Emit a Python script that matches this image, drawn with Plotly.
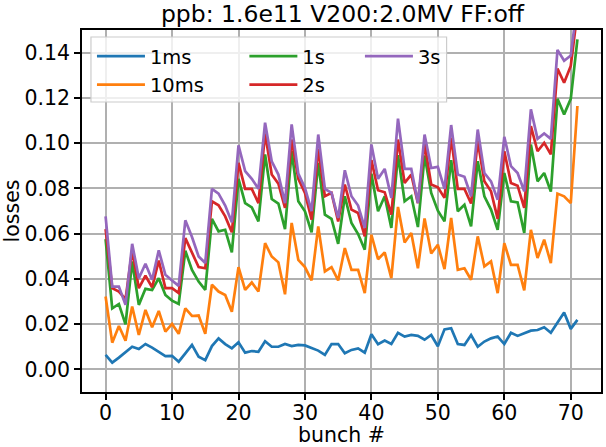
import plotly.graph_objects as go

# bunch index along the batch
bunch = list(range(72))

# loss fraction per bunch for each capture time
loss_1ms = [0.0064, 0.0030, 0.0052, 0.0078, 0.0100, 0.0090, 0.0112, 0.0096, 0.0078, 0.0059,
            0.0060, 0.0034, 0.0071, 0.0108, 0.0056, 0.0041, 0.0103, 0.0137, 0.0112, 0.0093,
            0.0120, 0.0074, 0.0081, 0.0078, 0.0124, 0.0100, 0.0100, 0.0112, 0.0103, 0.0108,
            0.0106, 0.0093, 0.0083, 0.0064, 0.0112, 0.0112, 0.0071, 0.0086, 0.0093, 0.0074,
            0.0155, 0.0111, 0.0127, 0.0112, 0.0162, 0.0145, 0.0152, 0.0148, 0.0131, 0.0152,
            0.0102, 0.0177, 0.0182, 0.0112, 0.0108, 0.0152, 0.0100, 0.0123, 0.0137, 0.0145,
            0.0112, 0.0162, 0.0148, 0.0160, 0.0171, 0.0174, 0.0186, 0.0162, 0.0204, 0.0251,
            0.0179, 0.0219]
loss_10ms = [0.0322, 0.0118, 0.0192, 0.0127, 0.0278, 0.0152, 0.0263, 0.0186, 0.0258, 0.0167,
             0.0201, 0.0157, 0.0270, 0.0236, 0.0238, 0.0157, 0.0374, 0.0344, 0.0329, 0.0255,
             0.0452, 0.0351, 0.0384, 0.0344, 0.0558, 0.0499, 0.0473, 0.0332, 0.0647, 0.0484,
             0.0452, 0.0393, 0.0632, 0.0433, 0.0452, 0.0393, 0.0536, 0.0440, 0.0440, 0.0337,
             0.0595, 0.0487, 0.0517, 0.0403, 0.0718, 0.0561, 0.0603, 0.0447, 0.0667, 0.0512,
             0.0551, 0.0443, 0.0669, 0.0440, 0.0447, 0.0396, 0.0588, 0.0455, 0.0477, 0.0337,
             0.0558, 0.0462, 0.0462, 0.0349, 0.0617, 0.0492, 0.0573, 0.0470, 0.0777, 0.0765,
             0.0735, 0.1164]
loss_1s = [0.0576, 0.0270, 0.0289, 0.0199, 0.0477, 0.0285, 0.0356, 0.0351, 0.0403, 0.0329,
           0.0304, 0.0289, 0.0524, 0.0440, 0.0388, 0.0351, 0.0665, 0.0610, 0.0617, 0.0517,
           0.0842, 0.0735, 0.0716, 0.0654, 0.0950, 0.0753, 0.0733, 0.0620, 0.0964, 0.0743,
           0.0699, 0.0606, 0.0913, 0.0684, 0.0665, 0.0555, 0.0765, 0.0647, 0.0598, 0.0529,
           0.0865, 0.0699, 0.0765, 0.0625, 0.0947, 0.0743, 0.0765, 0.0629, 0.0945, 0.0780,
           0.0701, 0.0654, 0.0925, 0.0699, 0.0728, 0.0632, 0.0920, 0.0765, 0.0706, 0.0617,
           0.0868, 0.0743, 0.0738, 0.0603, 0.0994, 0.0831, 0.0868, 0.0786, 0.1196, 0.1127,
           0.1196, 0.1459]
loss_2s = [0.0620, 0.0359, 0.0344, 0.0310, 0.0526, 0.0359, 0.0414, 0.0363, 0.0481, 0.0359,
           0.0359, 0.0337, 0.0580, 0.0517, 0.0452, 0.0447, 0.0743, 0.0725, 0.0676, 0.0606,
           0.0913, 0.0798, 0.0798, 0.0735, 0.1043, 0.0861, 0.0821, 0.0714, 0.1016, 0.0842,
           0.0780, 0.0662, 0.0975, 0.0765, 0.0780, 0.0654, 0.0817, 0.0706, 0.0691, 0.0588,
           0.0925, 0.0792, 0.0783, 0.0684, 0.1016, 0.0824, 0.0861, 0.0735, 0.0998, 0.0817,
           0.0805, 0.0758, 0.1024, 0.0798, 0.0798, 0.0733, 0.1009, 0.0831, 0.0787, 0.0665,
           0.0964, 0.0824, 0.0812, 0.0714, 0.1075, 0.0964, 0.1001, 0.0950, 0.1329, 0.1267,
           0.1341, 0.1580]
loss_3s = [0.0676, 0.0366, 0.0366, 0.0285, 0.0555, 0.0403, 0.0467, 0.0396, 0.0526, 0.0418,
           0.0393, 0.0369, 0.0659, 0.0585, 0.0499, 0.0470, 0.0798, 0.0777, 0.0724, 0.0650,
           0.0990, 0.0876, 0.0842, 0.0798, 0.1090, 0.0920, 0.0861, 0.0735, 0.1083, 0.0865,
           0.0802, 0.0699, 0.1038, 0.0798, 0.0780, 0.0669, 0.0880, 0.0765, 0.0724, 0.0625,
           0.0994, 0.0842, 0.0886, 0.0758, 0.1108, 0.0886, 0.0886, 0.0735, 0.1038, 0.0890,
           0.0895, 0.0798, 0.1080, 0.0861, 0.0851, 0.0765, 0.1060, 0.0868, 0.0831, 0.0750,
           0.1028, 0.0898, 0.0868, 0.0787, 0.1149, 0.1019, 0.1043, 0.1019, 0.1412, 0.1364,
           0.1387, 0.1620]

series_names = ["1ms", "10ms", "1s", "2s", "3s"]
series_values = [loss_1ms, loss_10ms, loss_1s, loss_2s, loss_3s]
series_colors = ["#1f77b4", "#ff7f0e", "#2ca02c", "#d62728", "#9467bd"]
# legend columns: two entries, two entries, one entry
series_legend = ["legend", "legend", "legend2", "legend2", "legend3"]

x_ticks = [0, 10, 20, 30, 40, 50, 60, 70]

W, H = 606, 447
L, R, T, B = 82, 3, 30, 55
FONT = "DejaVu Sans"
FS = 20.5

fig = go.Figure()
for name, vals, col, lg in zip(series_names, series_values, series_colors, series_legend):
    fig.add_trace(go.Scatter(x=bunch, y=vals, mode="lines", name=name,
                             line=dict(color=col, width=2.7), legend=lg))

pw = W - L - R
ph = H - T - B


def px_x(p):
    return (p - L) / pw


def px_y(p):
    return (H - B - p) / ph


legend_common = dict(bgcolor="rgba(0,0,0,0)", borderwidth=0,
                     font=dict(family=FONT, size=19.5, color="#000"),
                     orientation="v", xanchor="left", yanchor="top", itemwidth=48,
                     tracegroupgap=0)

fig.update_layout(
    width=W, height=H,
    margin=dict(l=L, r=R, t=T, b=B),
    paper_bgcolor="white", plot_bgcolor="white",
    font=dict(family=FONT, size=FS, color="#000"),
    title=dict(text="ppb: 1.6e11 V200:2.0MV FF:off", x=(L + pw / 2) / W, xanchor="center",
               y=1 - 14 / H, yanchor="middle", yref="container",
               font=dict(family=FONT, size=23.5, color="#000")),
    xaxis=dict(range=[-3.55, 74.55], tickvals=x_ticks, ticks="outside", ticklen=6, tickwidth=1.5,
               tickcolor="#000", ticklabelstandoff=-4, showgrid=True, gridcolor="#b0b0b0",
               gridwidth=1.5, showline=True, linecolor="#000", linewidth=1.5, mirror=True,
               zeroline=False,
               title=dict(text="bunch #", standoff=0, font=dict(family=FONT, size=FS))),
    yaxis=dict(range=[-0.01, 0.15], tick0=0, dtick=0.02, tickformat=".2f", ticks="outside",
               ticklen=6, tickwidth=1.5, tickcolor="#000", showgrid=True, gridcolor="#b0b0b0",
               gridwidth=1.5, showline=True, linecolor="#000", linewidth=1.5, mirror=True,
               zeroline=False,
               title=dict(text="losses", standoff=6, font=dict(family=FONT, size=FS))),
    legend=dict(x=px_x(92), y=px_y(37), **legend_common),
    legend2=dict(x=px_x(245), y=px_y(37), **legend_common),
    legend3=dict(x=px_x(361), y=px_y(37), **legend_common),
    shapes=[dict(type="rect", xref="paper", yref="paper", layer="above",
                 x0=px_x(91), x1=px_x(448), y0=px_y(102), y1=px_y(37),
                 fillcolor="rgba(255,255,255,0.8)", line=dict(color="#cccccc", width=1.2))],
)

fig.write_html("out.html")
